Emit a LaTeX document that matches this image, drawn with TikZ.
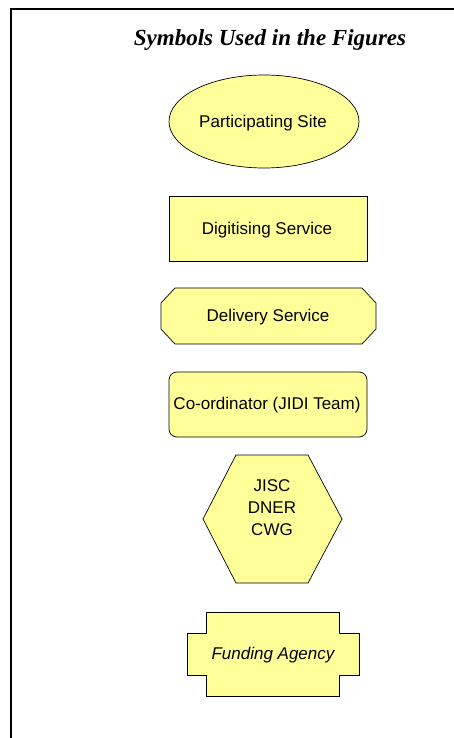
\documentclass[tikz,border=0pt]{standalone}
\usepackage{fontspec}
\setmainfont{Liberation Sans}
\newfontfamily\titlefont{Liberation Serif}
\usetikzlibrary{shapes.geometric}
\definecolor{symfill}{HTML}{FFFF99}
\begin{document}
\begin{tikzpicture}[x=1pt,y=-1pt,
  sym/.style={draw=black,fill=symfill,line width=0.7pt,line join=miter},
  lbl/.style={inner sep=0pt,font=\fontsize{17}{22}\selectfont,align=center},
  frame/.style={draw=black,line width=1.8pt}]
\useasboundingbox (0,0) rectangle (453,738);
% open frame running off the right and bottom edges
\draw[frame] (11,745) -- (11,9) -- (460,9);
% heading
\node[inner sep=0pt,font=\titlefont\fontsize{23}{26}\selectfont\bfseries\itshape] (title) at (270,40) {Symbols Used in the Figures};
% participating site
\node[sym,ellipse,minimum width=190pt,minimum height=93pt,inner sep=0pt] (site) at (264,121.5) {};
\node[lbl] (siteT) at (263,123) {Participating Site};
% digitising service
\node[sym,rectangle,minimum width=198pt,minimum height=65pt,inner sep=0pt] (digit) at (268,228.5) {};
\node[lbl] (digitT) at (267,230) {Digitising Service};
% delivery service: chamfered box
\draw[sym] (175,288) -- (362,288) -- (376,303) -- (376,329) -- (362,344) -- (175,344) -- (161,329) -- (161,303) -- cycle;
\node[lbl] (delivT) at (268,317) {Delivery Service};
% co-ordinator: rounded box
\draw[sym,rounded corners=8pt] (169,372) rectangle (367,437);
\node[lbl] (coordT) at (267,405) {Co-ordinator (JIDI Team)};
% steering group: hexagon
\draw[sym] (236,455) -- (308,455) -- (342,519) -- (308,583) -- (236,583) -- (203,519) -- cycle;
\node[lbl,font=\fontsize{17}{22}\selectfont] (hexT) at (272,508) {JISC\\DNER\\CWG};
% funding agency: box with side tabs
\draw[sym] (206,612) -- (339,612) -- (339,633) -- (359,633) -- (359,675) -- (339,675) -- (339,696) -- (206,696) -- (206,675) -- (187,675) -- (187,633) -- (206,633) -- cycle;
\node[lbl,font=\fontsize{17}{22}\selectfont\itshape] (fundT) at (273,655) {Funding Agency};
\end{tikzpicture}
\end{document}
